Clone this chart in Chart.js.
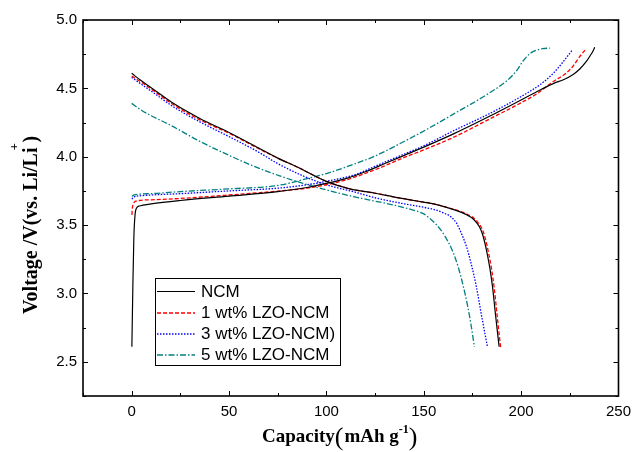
<!DOCTYPE html>
<html>
<head>
<meta charset="utf-8">
<script src="https://cdn.jsdelivr.net/npm/chart.js@4/dist/chart.umd.min.js"></script>
<style>
  html, body { margin: 0; padding: 0; background: #fff; }
  #wrap { width: 638px; height: 452px; position: relative; }
</style>
</head>
<body>
<div id="wrap"><canvas id="c" width="638" height="452"></canvas></div>
<script>
// Charge / discharge profiles: [capacity (mAh g-1), voltage (V)]
const ncmCharge = [[0.1,2.61],[0.6,3.05],[1.1,3.40],[1.7,3.57],[2.5,3.625],[4,3.64],[10,3.655],[25,3.68],[50,3.712],[75,3.745],[90,3.775],[100,3.805],[110,3.84],[120,3.89],[130,3.95],[140,4.01],[150,4.07],[165,4.165],[183,4.29],[200,4.415],[208,4.475],[216.5,4.535],[222,4.565],[226.5,4.6],[230,4.64],[233.4,4.695],[235.5,4.74],[237,4.775],[237.8,4.8]];
const ncmDischarge = [[0,4.61],[5,4.555],[10,4.505],[22,4.385],[35,4.28],[51,4.17],[65,4.065],[75,3.99],[85,3.925],[100,3.82],[112,3.765],[125,3.733],[135,3.705],[145,3.68],[155,3.655],[165,3.615],[169,3.595],[172,3.575],[175,3.55],[177,3.52],[178.5,3.49],[180,3.44],[181.2,3.38],[182.3,3.31],[184,3.18],[185.3,3.05],[186.8,2.85],[188.7,2.61]];

const lzo1Charge = [[0.1,3.575],[0.4,3.63],[1,3.66],[2,3.675],[10,3.685],[25,3.695],[50,3.72],[75,3.748],[90,3.77],[100,3.795],[110,3.83],[125,3.905],[140,3.995],[150,4.05],[165,4.14],[183,4.27],[200,4.395],[208,4.46],[216.5,4.55],[223,4.61],[226.5,4.66],[230,4.73],[233.4,4.79]];
const lzo1Discharge = [[0,4.59],[5,4.545],[10,4.495],[22,4.375],[35,4.27],[51,4.165],[65,4.06],[75,3.99],[85,3.925],[100,3.82],[112,3.765],[125,3.733],[135,3.705],[145,3.68],[155,3.655],[165,3.617],[169.5,3.597],[172.8,3.575],[175.8,3.55],[177.8,3.52],[179.3,3.49],[180.8,3.44],[182,3.38],[183.1,3.31],[184.8,3.18],[186.1,3.05],[187.6,2.85],[189.5,2.6]];

const lzo3Charge = [[0.1,3.69],[1,3.705],[5,3.715],[25,3.73],[50,3.75],[75,3.77],[90,3.795],[100,3.82],[115,3.87],[125,3.93],[140,4.02],[150,4.08],[166,4.195],[183,4.31],[200,4.44],[210,4.53],[216.5,4.61],[221.6,4.695],[226.5,4.785]];
const lzo3Discharge = [[0,4.58],[5,4.53],[10,4.48],[22,4.36],[35,4.255],[51,4.14],[65,4.035],[75,3.95],[88,3.86],[100,3.795],[115,3.74],[125,3.70],[140,3.655],[150,3.63],[155,3.615],[160.8,3.585],[164,3.56],[167,3.51],[169.3,3.44],[172,3.34],[174.3,3.22],[177,3.05],[179.4,2.86],[182.7,2.61]];

const lzo5Charge = [[0.1,3.71],[1,3.72],[10,3.73],[25,3.745],[50,3.765],[75,3.79],[90,3.84],[100,3.877],[115,3.95],[125,4.005],[141,4.12],[149,4.18],[165,4.31],[183,4.46],[193,4.56],[198,4.635],[201,4.70],[204.7,4.756],[208,4.78],[211,4.79],[214.8,4.795]];
const lzo5Discharge = [[0,4.39],[5,4.34],[10,4.30],[20,4.23],[34,4.12],[50,4.01],[62,3.935],[76,3.86],[88,3.805],[100,3.757],[115,3.705],[125,3.675],[135,3.645],[145,3.608],[150,3.582],[153,3.55],[156,3.51],[159,3.46],[161,3.416],[164.5,3.32],[167.6,3.197],[170,3.07],[172.6,2.904],[174.5,2.75],[176,2.61]];

const sampleNames = ['NCM', '1 wt% LZO-NCM', '3 wt% LZO-NCM)', '5 wt% LZO-NCM'];
const sampleColors = ['#000000', '#ff0000', '#0000ff', '#008080'];
const sampleDashes = [[], [4, 2], [1.5, 1.5], [6, 2, 1.5, 2]];

const xTickValues = [0, 50, 100, 150, 200, 250];
const xTickLabels = ['0', '50', '100', '150', '200', '250'];
const yTickValues = [2.5, 3.0, 3.5, 4.0, 4.5, 5.0];
const yTickLabels = ['2.5', '3.0', '3.5', '4.0', '4.5', '5.0'];
const xRange = [-25, 250];
const yRange = [2.25, 5.0];
const xMinorStep = 25;
const yMinorStep = 0.25;

const toPoints = arr => arr.map(p => ({ x: p[0], y: p[1] }));
const curves = [
  [ncmCharge, ncmDischarge],
  [lzo1Charge, lzo1Discharge],
  [lzo3Charge, lzo3Discharge],
  [lzo5Charge, lzo5Discharge]
];

const datasets = [];
curves.forEach((pair, i) => {
  pair.forEach((arr, k) => {
    datasets.push({
      label: sampleNames[i] + (k === 0 ? ' charge' : ' discharge'),
      data: toPoints(arr),
      borderColor: sampleColors[i],
      borderDash: sampleDashes[i],
      borderWidth: i === 0 ? 1.2 : 1.3,
      pointRadius: 0,
      fill: false,
      cubicInterpolationMode: 'monotone'
    });
  });
});

// Boxed axes with inward major/minor ticks, titles and the legend box
const framePlugin = {
  id: 'frame',
  afterDraw(chart) {
    const { ctx, chartArea: a, scales: { x, y } } = chart;
    ctx.save();
    ctx.strokeStyle = '#000';
    ctx.lineWidth = 1;
    // x ticks (bottom and top)
    for (let v = xRange[0]; v <= xRange[1] + 1e-9; v += xMinorStep) {
      const px = Math.round(x.getPixelForValue(v)) + 0.5;
      const major = Math.abs(v % 50) < 1e-9;
      const len = major ? 5 : 3;
      ctx.beginPath();
      ctx.moveTo(px, a.bottom); ctx.lineTo(px, a.bottom - len);
      ctx.moveTo(px, a.top); ctx.lineTo(px, a.top + len);
      ctx.stroke();
    }
    // y ticks (left and right)
    for (let v = yRange[0]; v <= yRange[1] + 1e-9; v += yMinorStep) {
      const py = Math.round(y.getPixelForValue(v)) + 0.5;
      const major = Math.abs((v * 2) - Math.round(v * 2)) < 1e-9;
      const len = major ? 5 : 3;
      ctx.beginPath();
      ctx.moveTo(a.left, py); ctx.lineTo(a.left + len, py);
      ctx.moveTo(a.right, py); ctx.lineTo(a.right - len, py);
      ctx.stroke();
    }
    ctx.lineWidth = 1.6;
    ctx.strokeRect(a.left, a.top, a.right - a.left, a.bottom - a.top);

    // Legend
    const lx = 155, ly = 278, lw = 185, lh = 87;
    ctx.fillStyle = '#fff';
    ctx.fillRect(lx, ly, lw, lh);
    ctx.lineWidth = 1;
    ctx.strokeStyle = '#000';
    ctx.strokeRect(lx + 0.5, ly + 0.5, lw, lh);
    const rows = [291, 312.5, 333.5, 354.5];
    ctx.font = '17px "Liberation Sans", Arial, sans-serif';
    ctx.textBaseline = 'middle';
    ctx.textAlign = 'left';
    sampleNames.forEach((name, i) => {
      const ds = chart.data.datasets[i * 2];
      ctx.save();
      ctx.strokeStyle = ds.borderColor;
      ctx.lineWidth = ds.borderWidth;
      ctx.setLineDash(ds.borderDash);
      ctx.beginPath();
      ctx.moveTo(157, rows[i] + 0.5);
      ctx.lineTo(195, rows[i] + 0.5);
      ctx.stroke();
      ctx.restore();
      ctx.fillStyle = '#000';
      ctx.fillText(name, 201, rows[i] + 1);
    });

    // x axis title: Capacity(mAh g-1)
    ctx.fillStyle = '#000';
    ctx.textBaseline = 'alphabetic';
    const boldSerif = s => 'bold ' + s + 'px "Liberation Serif", "Times New Roman", serif';
    let cx = 262, base = 442;
    ctx.font = boldSerif(19);
    ctx.fillText('Capacity', cx, base); cx += ctx.measureText('Capacity').width;
    ctx.font = '26px "Liberation Serif", serif';
    ctx.fillText('(', cx, base + 3); cx += ctx.measureText('(').width + 1;
    ctx.font = boldSerif(19);
    ctx.fillText('mAh g', cx, base); cx += ctx.measureText('mAh g').width;
    ctx.font = boldSerif(12);
    ctx.fillText('-1', cx, base - 9); cx += ctx.measureText('-1').width;
    ctx.font = '26px "Liberation Serif", serif';
    ctx.fillText(')', cx, base + 3);

    // y axis title: Voltage /V(vs. Li/Li+)
    ctx.save();
    ctx.translate(37, 314);
    ctx.rotate(-Math.PI / 2);
    let tx = 0;
    ctx.font = boldSerif(20);
    const main = 'Voltage /V(vs. Li/Li';
    ctx.fillText(main, tx, 0); tx += ctx.measureText(main).width;
    ctx.font = boldSerif(13);
    ctx.fillText('+', tx - 3, -19); tx += 5;
    ctx.font = boldSerif(20);
    ctx.fillText(')', tx, 0);
    ctx.restore();

    ctx.restore();
  }
};

new Chart(document.getElementById('c'), {
  type: 'line',
  data: { datasets },
  options: {
    responsive: false,
    animation: false,
    devicePixelRatio: 1,
    layout: { padding: { top: 20, right: 12, left: 0, bottom: 0 } },
    plugins: { legend: { display: false }, tooltip: { enabled: false } },
    scales: {
      x: {
        type: 'linear',
        min: xRange[0],
        max: xRange[1],
        grid: { display: false, drawTicks: false },
        border: { display: false },
        afterBuildTicks: s => { s.ticks = xTickValues.map(v => ({ value: v })); },
        afterFit: s => { s.height = 56; },
        ticks: {
          padding: 7,
          color: '#000',
          font: { family: '"Liberation Sans", Arial, sans-serif', size: 15 },
          maxRotation: 0,
          callback: (v, i) => xTickLabels[i]
        }
      },
      y: {
        type: 'linear',
        min: yRange[0],
        max: yRange[1],
        grid: { display: false, drawTicks: false },
        border: { display: false },
        afterBuildTicks: s => { s.ticks = yTickValues.map(v => ({ value: v })); },
        afterFit: s => { s.width = 83; },
        ticks: {
          padding: 6,
          color: '#000',
          font: { family: '"Liberation Sans", Arial, sans-serif', size: 15 },
          callback: (v, i) => yTickLabels[i]
        }
      }
    }
  },
  plugins: [framePlugin]
});
</script>
</body>
</html>
